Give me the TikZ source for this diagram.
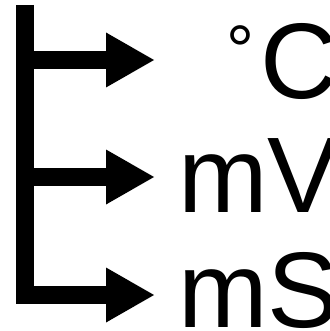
\documentclass[tikz,border=0pt]{standalone}
\usepackage{fontspec}
\setmainfont{Liberation Sans}
\usetikzlibrary{calc}
\begin{document}
\begin{tikzpicture}[x=1pt,y=-1pt,
  shaft/.style={line width=18pt,line join=miter,line cap=butt},
  head/.style={fill=black},
  unit/.style={anchor=base west,inner sep=0pt,font=\fontsize{107.5}{107.5}\selectfont}]
\useasboundingbox (0,0) rectangle (329,331);
\clip (0,0) rectangle (329,331);
\coordinate (top) at (24.5,5);
\coordinate (c1) at (24.5,60);
\coordinate (c2) at (24.5,177);
\coordinate (c3) at (24.5,295);
\coordinate (e1) at (106,60);
\coordinate (e2) at (106,177);
\coordinate (e3) at (106,295);
\draw[shaft] (top) -- (c3) -- (e3);
\draw[shaft] (c1) -- (e1);
\draw[shaft] (c2) -- (e2);
\fill[head] ($(e1)+(0,-27.5)$) -- ($(e1)+(48,0)$) -- ($(e1)+(0,27.5)$) -- cycle;
\fill[head] ($(e2)+(0,-27.5)$) -- ($(e2)+(48,0)$) -- ($(e2)+(0,27.5)$) -- cycle;
\fill[head] ($(e3)+(0,-27.5)$) -- ($(e3)+(48,0)$) -- ($(e3)+(0,27.5)$) -- cycle;
\node[unit] (degc) at (226,99) {\raisebox{24pt}{\fontsize{70}{70}\selectfont °}\hspace{6pt}C};
\node[unit] (mv) at (178,212) {mV};
\node[unit] (ms) at (178,327) {mS};
\end{tikzpicture}
\end{document}
